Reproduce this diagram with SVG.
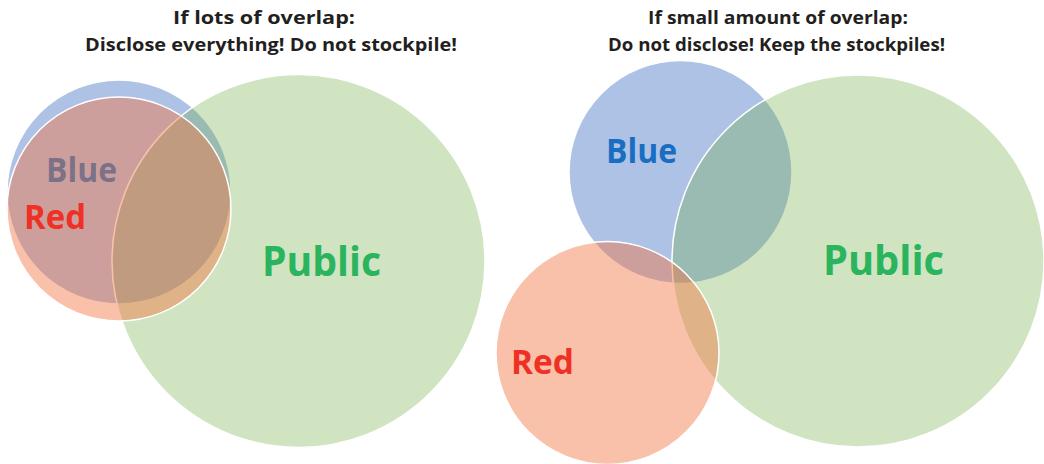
<svg xmlns="http://www.w3.org/2000/svg" width="1044" height="464" viewBox="0 0 1044 464">
<style>
.c{stroke:#fff;stroke-width:1.5}
.blue{fill:#4472C4;fill-opacity:0.43}
.pub{fill:#70AD47;fill-opacity:0.33}
.red{fill:#F27542;fill-opacity:0.45}
.t{font-family:"Open Sans","Noto Sans",sans-serif;font-weight:bold;font-size:17.5px;fill:#231F20;text-anchor:middle}
.lb{font-family:"Open Sans","Noto Sans",sans-serif;font-weight:bold}
.tb{fill:#1A6EC2;font-size:34px}
.tr{fill:#EE3124;font-size:34px}
.tp{fill:#2BB45E;font-size:42px}
</style>
<rect width="1044" height="464" fill="#fff"/>
<g id="titles">
<text class="t" x="264" y="23.5" textLength="182" lengthAdjust="spacingAndGlyphs">If lots of overlap:</text>
<text class="t" x="271" y="50.5" textLength="372" lengthAdjust="spacingAndGlyphs">Disclose everything! Do not stockpile!</text>
<text class="t" x="778" y="23.5" textLength="260" lengthAdjust="spacingAndGlyphs">If small amount of overlap:</text>
<text class="t" x="776.5" y="50.5" textLength="337" lengthAdjust="spacingAndGlyphs">Do not disclose! Keep the stockpiles!</text>
</g>
<g id="connectors"></g>
<g id="left-blue">
<circle class="c blue" cx="119" cy="192" r="112"/>
<text class="lb tb" x="46" y="182" textLength="71" lengthAdjust="spacingAndGlyphs">Blue</text>
</g>
<g id="left-public">
<circle class="c pub" cx="298.5" cy="261" r="186.5"/>
<text class="lb tp" x="262" y="275.5" textLength="119" lengthAdjust="spacingAndGlyphs">Public</text>
</g>
<g id="left-red">
<circle class="c red" cx="119" cy="209" r="112"/>
<text class="lb tr" x="24" y="229" textLength="62" lengthAdjust="spacingAndGlyphs">Red</text>
</g>
<g id="right-blue">
<circle class="c blue" cx="680.5" cy="172" r="111.5"/>
<text class="lb tb" x="606" y="163" textLength="71" lengthAdjust="spacingAndGlyphs">Blue</text>
</g>
<g id="right-public">
<circle class="c pub" cx="858" cy="261" r="186"/>
<text class="lb tp" x="823" y="275" textLength="121" lengthAdjust="spacingAndGlyphs">Public</text>
</g>
<g id="right-red">
<circle class="c red" cx="607.5" cy="353" r="111.5"/>
<text class="lb tr" x="511" y="374" textLength="63" lengthAdjust="spacingAndGlyphs">Red</text>
</g>
</svg>
